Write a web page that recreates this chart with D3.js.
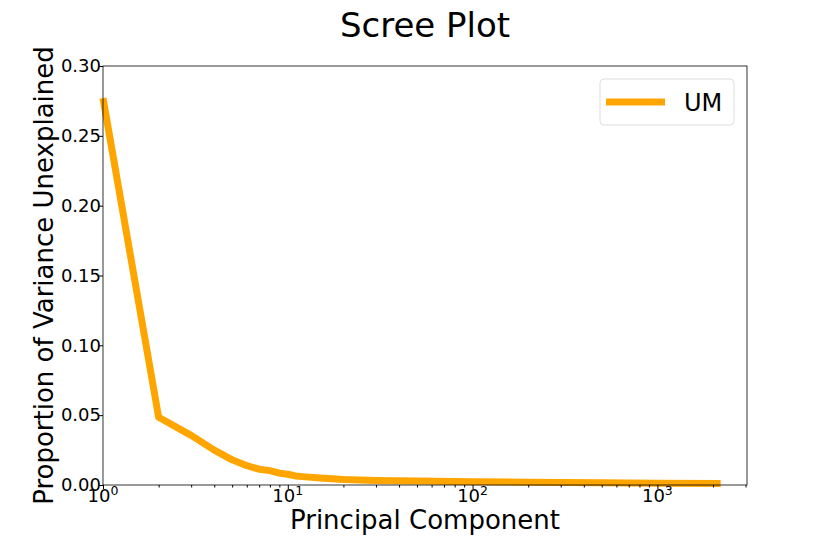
<!DOCTYPE html>
<html><head><meta charset="utf-8">
<script src="https://cdn.jsdelivr.net/npm/d3@7"></script>
<style>body{margin:0;background:#fff}svg{font-family:"DejaVu Sans",sans-serif}</style>
</head><body>
<svg id="c" width="830" height="554"></svg>
<script>
const components = [1, 2, 3, 4, 5, 6, 7, 8, 9, 10, 11, 12, 15, 20, 30, 50, 100, 200, 500, 1000, 2200];
const unexplained = [0.277, 0.0485, 0.0355, 0.025, 0.018, 0.0138, 0.0113, 0.0103, 0.0085, 0.0077, 0.0065, 0.006, 0.005, 0.004, 0.0033, 0.0028, 0.0023, 0.002, 0.0016, 0.0013, 0.001];
const yTicks = [0, 0.05, 0.10, 0.15, 0.20, 0.25, 0.30];
const xDecades = [1, 10, 100, 1000];
const seriesName = "UM";

const svg = d3.select("#c");
const m = {l:103, r:747, t:66, b:485};
const x = d3.scaleLog().domain([1, Math.pow(10, 3.485)]).range([m.l, m.r]);
const y = d3.scaleLinear().domain([0, 0.30]).range([m.b, m.t]);

// line
const line = d3.line().x((d,i)=>x(components[i])).y(d=>y(d));
svg.append("path").datum(unexplained).attr("d", line)
  .attr("fill","none").attr("stroke","#FFA500").attr("stroke-width",7)
  .attr("stroke-linejoin","round");

// frame
svg.append("rect").attr("x",m.l).attr("y",m.t).attr("width",m.r-m.l).attr("height",m.b-m.t)
  .attr("fill","none").attr("stroke","#000").attr("stroke-width",0.8);

// y axis
const ya = svg.append("g").attr("transform",`translate(${m.l},0)`)
  .call(d3.axisLeft(y).tickValues(yTicks).tickFormat(d3.format(".2f")).tickSize(4).tickPadding(-2));
ya.select(".domain").remove();
ya.selectAll("text").attr("font-size",18).attr("fill","#000").attr("font-family","DejaVu Sans");

// x axis
const minor = [];
for (let d=1; d<=1000; d*=10) for (let k=2;k<=9;k++) if (d*k < x.domain()[1]) minor.push(d*k);
const xa = svg.append("g").attr("transform",`translate(0,${m.b})`)
  .call(d3.axisBottom(x).tickValues(xDecades).tickFormat("").tickSize(4));
xa.select(".domain").remove();
const xm = svg.append("g").attr("transform",`translate(0,${m.b})`)
  .call(d3.axisBottom(x).tickValues(minor).tickFormat("").tickSize(2.5));
xm.select(".domain").remove();
xDecades.forEach((v)=>{
  const t = svg.append("text").attr("x",x(v)).attr("y",m.b+17).attr("text-anchor","middle")
    .attr("font-size",18).attr("fill","#000");
  t.append("tspan").text("10");
  t.append("tspan").attr("dy",-7).attr("font-size",12.5).text(Math.round(Math.log10(v)));
});

// labels
svg.append("text").attr("x",(m.l+m.r)/2).attr("y",37).attr("text-anchor","middle")
  .attr("font-size",34).text("Scree Plot");
svg.append("text").attr("x",(m.l+m.r)/2).attr("y",529).attr("text-anchor","middle")
  .attr("font-size",26).text("Principal Component");
svg.append("text").attr("transform",`translate(53,${(m.t+m.b)/2}) rotate(-90)`).attr("text-anchor","middle")
  .attr("font-size",26).text("Proportion of Variance Unexplained");

// legend
const lg = svg.append("g");
lg.append("rect").attr("x",600).attr("y",79).attr("width",134).attr("height",46).attr("rx",4)
  .attr("fill","#fff").attr("stroke","#ddd").attr("stroke-width",1);
lg.append("line").attr("x1",606).attr("x2",665).attr("y1",102).attr("y2",102)
  .attr("stroke","#FFA500").attr("stroke-width",7);
lg.append("text").attr("x",684).attr("y",111).attr("font-size",24).text(seriesName);
</script>
</body></html>
